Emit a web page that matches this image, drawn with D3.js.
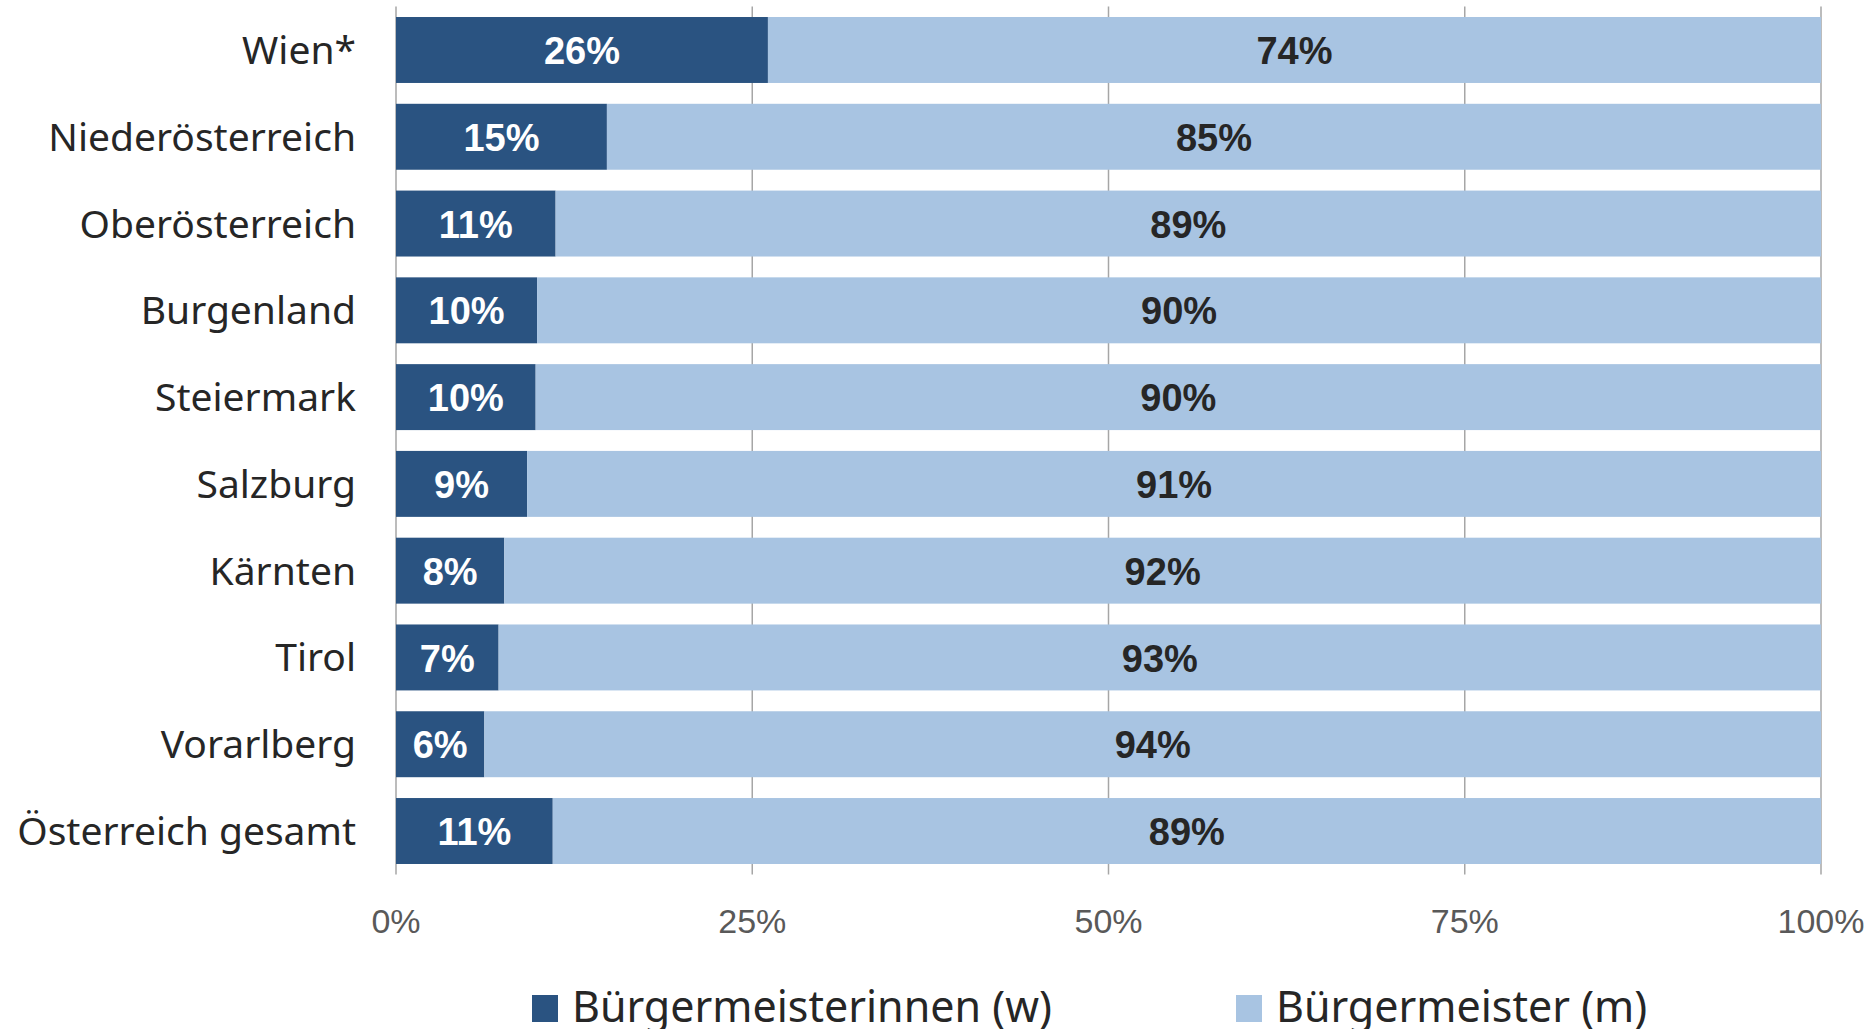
<!DOCTYPE html>
<html>
<head>
<meta charset="utf-8">
<script src="https://cdn.jsdelivr.net/npm/d3@7"></script>
<style>
  html, body { margin: 0; padding: 0; background: #fff; }
</style>
</head>
<body>
<div id="chart"></div>
<script>
const CATEGORIES = ["Wien*", "Niederösterreich", "Oberösterreich", "Burgenland", "Steiermark",
  "Salzburg", "Kärnten", "Tirol", "Vorarlberg", "Österreich gesamt"];
// share of female mayors in %
const WOMEN = [26.1, 14.8, 11.2, 9.9, 9.8, 9.2, 7.6, 7.2, 6.2, 11.0];
const MEN = WOMEN.map(v => 100 - v);
const TICKS = [0, 25, 50, 75, 100];
const SERIES = ["Bürgermeisterinnen (w)", "Bürgermeister (m)"];

const COLOR_W = "#2a5381";
const COLOR_M = "#a8c4e2";
const FONT_LABEL = "'Noto Sans', sans-serif";
const FONT_NUM = "'Liberation Sans', Arial, sans-serif";

const width = 1873;
const height = 1029;

const svg = d3.select("#chart").append("svg")
  .attr("width", width)
  .attr("height", height);

const x = d3.scaleLinear().domain([0, 100]).range([396, 1821]);
const y = d3.scaleBand().domain(CATEGORIES).range([6.6, 874.4])
  .paddingInner(0.24).paddingOuter(0.12);

const rows = CATEGORIES.map((c, i) => ({ cat: c, w: WOMEN[i], m: MEN[i] }));

// gridlines
svg.append("g")
  .selectAll("line")
  .data(TICKS)
  .join("line")
  .attr("x1", d => x(d)).attr("x2", d => x(d))
  .attr("y1", y.range()[0]).attr("y2", y.range()[1])
  .attr("stroke", "#a6a6a6")
  .attr("stroke-width", 1.5);

const g = svg.append("g");

g.selectAll("rect.w")
  .data(rows)
  .join("rect")
  .attr("class", "w")
  .attr("x", x(0))
  .attr("y", d => y(d.cat))
  .attr("width", d => x(d.w) - x(0))
  .attr("height", y.bandwidth())
  .attr("fill", COLOR_W);

g.selectAll("rect.m")
  .data(rows)
  .join("rect")
  .attr("class", "m")
  .attr("x", d => x(d.w))
  .attr("y", d => y(d.cat))
  .attr("width", d => x(100) - x(d.w))
  .attr("height", y.bandwidth())
  .attr("fill", COLOR_M);

// value labels
g.selectAll("text.lw")
  .data(rows)
  .join("text")
  .attr("class", "lw")
  .attr("x", d => x(d.w / 2))
  .attr("y", d => y(d.cat) + y.bandwidth() / 2)
  .attr("dy", "0.37em")
  .attr("text-anchor", "middle")
  .attr("font-family", FONT_NUM)
  .attr("font-weight", "bold")
  .attr("font-size", 38)
  .attr("fill", "#ffffff")
  .text(d => Math.round(d.w) + "%");

g.selectAll("text.lm")
  .data(rows)
  .join("text")
  .attr("class", "lm")
  .attr("x", d => x(d.w + d.m / 2))
  .attr("y", d => y(d.cat) + y.bandwidth() / 2)
  .attr("dy", "0.37em")
  .attr("text-anchor", "middle")
  .attr("font-family", FONT_NUM)
  .attr("font-weight", "bold")
  .attr("font-size", 38)
  .attr("fill", "#262626")
  .text(d => Math.round(d.m) + "%");

// category labels
svg.append("g")
  .selectAll("text")
  .data(CATEGORIES)
  .join("text")
  .attr("x", 356)
  .attr("y", d => y(d) + y.bandwidth() / 2)
  .attr("dy", "0.36em")
  .attr("text-anchor", "end")
  .attr("font-family", FONT_LABEL)
  .attr("font-size", 39)
  .attr("fill", "#262626")
  .text(d => d);

// x axis tick labels
svg.append("g")
  .selectAll("text")
  .data(TICKS)
  .join("text")
  .attr("x", d => x(d))
  .attr("y", 933)
  .attr("text-anchor", "middle")
  .attr("font-family", FONT_NUM)
  .attr("font-size", 34)
  .attr("fill", "#595959")
  .text(d => d + "%");

// legend
const legend = svg.append("g");
const legendX = [532, 1236];
SERIES.forEach((s, i) => {
  legend.append("rect")
    .attr("x", legendX[i])
    .attr("y", 995)
    .attr("width", 26)
    .attr("height", 27)
    .attr("fill", i === 0 ? COLOR_W : COLOR_M);
  legend.append("text")
    .attr("x", legendX[i] + 40)
    .attr("y", 1022)
    .attr("font-family", FONT_LABEL)
    .attr("font-size", 43)
    .attr("fill", "#262626")
    .text(s);
});
</script>
</body>
</html>
